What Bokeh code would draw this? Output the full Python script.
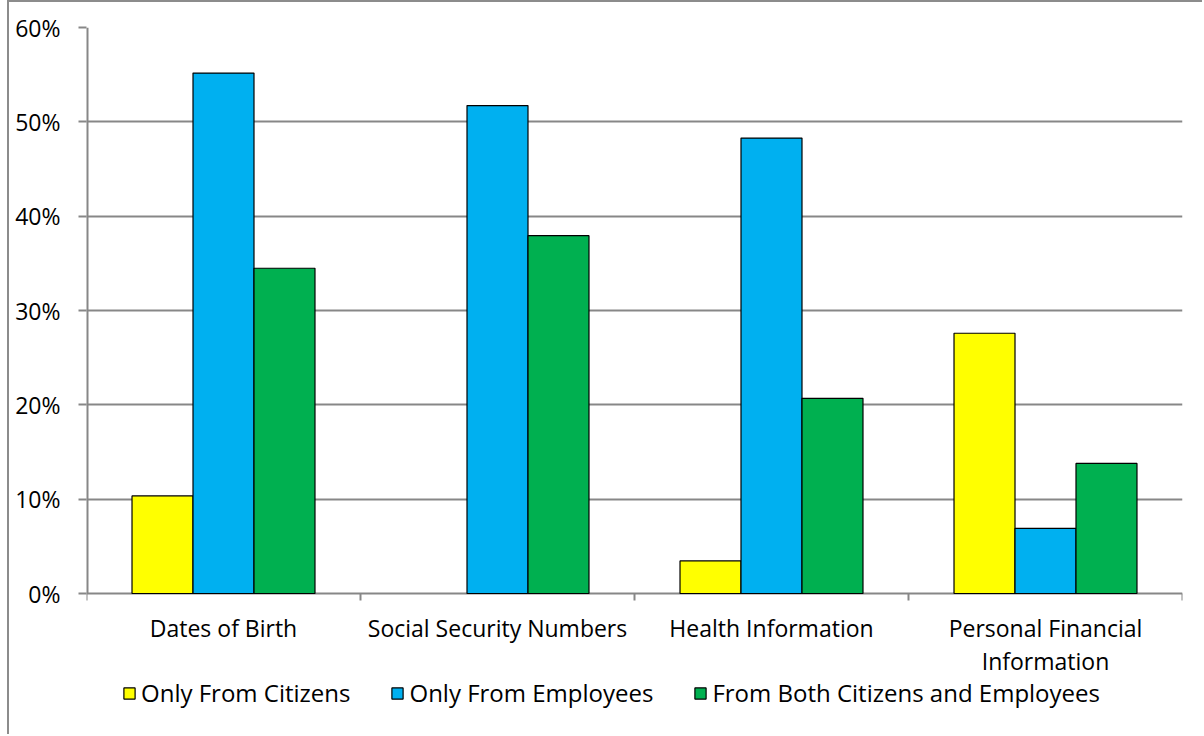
from bokeh.plotting import figure
from bokeh.models import (ColumnDataSource, FixedTicker, NumeralTickFormatter,
                          Legend, LegendItem, Range1d)
from bokeh.core.properties import value
from bokeh.embed import file_html
from bokeh.resources import INLINE

# Share of agencies collecting each kind of personal data, by source
categories = ["Dates of Birth", "Social Security Numbers", "Health Information",
              "Personal Financial\nInformation"]
series_names = ["Only From Citizens", "Only From Employees",
                "From Both Citizens and Employees"]
only_citizens = [10.34, 0.0, 3.45, 27.59]
only_employees = [55.17, 51.72, 48.28, 6.90]
both = [34.48, 37.93, 20.69, 13.79]
y_ticks = [0, 10, 20, 30, 40, 50, 60]

colors = ["#FFFF00", "#00B0F0", "#00B050"]
FONT = "Open Sans"
FS = "23px"
GRID = "#878787"

# layout: plot area 1096 x 566 px for 0..60 %, with room underneath it
# (inside the frame) for category labels and the legend row
PLOT_H = 566
BELOW_H = 143
PX = 60 / PLOT_H                      # data units per pixel
n = len(categories)

p = figure(width=1195, height=734, output_backend="svg", toolbar_location=None,
           x_range=Range1d(0, n), y_range=Range1d(-BELOW_H * PX, 60),
           x_axis_location=None,
           min_border_left=77, min_border_top=25, min_border_right=22,
           min_border_bottom=0)
p.outline_line_color = None
p.background_fill_color = "white"
p.border_fill_color = "white"

bar_w = 0.2226
centers = [i + 0.5 for i in range(n)]
renderers = []
for k, (vals, col) in enumerate(zip([only_citizens, only_employees, both], colors)):
    src = ColumnDataSource(dict(
        x=[c + (k - 1) * bar_w for c in centers],
        top=vals,
        lc=["black" if v > 0 else None for v in vals],
    ))
    r = p.vbar(x="x", top="top", width=bar_w, bottom=0, source=src,
               fill_color=col, line_color="lc", line_width=1.2)
    renderers.append(r)

# y axis: percent ticks, outward tick marks; its line only spans 0..60
p.yaxis.ticker = FixedTicker(ticks=y_ticks)
p.yaxis.formatter = NumeralTickFormatter(format="0")
p.yaxis.major_label_overrides = {t: f"{t}%" for t in y_ticks}
p.yaxis.major_tick_out = 8
p.yaxis.major_tick_in = 0
p.yaxis.minor_tick_line_color = None
p.yaxis.axis_line_color = None
p.yaxis.major_tick_line_color = GRID
p.yaxis.major_tick_line_width = 2
p.yaxis.major_label_standoff = 18
p.yaxis.major_label_text_font = FONT
p.yaxis.major_label_text_font_size = FS
p.yaxis.major_label_text_color = "black"
p.segment(x0=[0], y0=[0], x1=[0], y1=[y_ticks[-1]], line_color=GRID, line_width=4)

p.xgrid.grid_line_color = None
p.ygrid.ticker = FixedTicker(ticks=y_ticks)
p.ygrid.grid_line_color = GRID
p.ygrid.grid_line_width = 2

# category axis: tick marks at the boundaries, names under each group
bounds = list(range(n + 1))
p.segment(x0=bounds, y0=[0] * len(bounds), x1=bounds, y1=[-7 * PX] * len(bounds),
          line_color=GRID, line_width=2)
p.text(x=centers, y=[-18 * PX] * n, text=categories,
       text_font=value(FONT), text_font_size=FS, text_color="black",
       text_align="center", text_baseline="top", text_line_height=1.05)

# legend row under the category labels
legend = Legend(items=[LegendItem(label=nm, renderers=[r])
                       for nm, r in zip(series_names, renderers)],
                orientation="horizontal", location=(36, 27),
                border_line_color=None, background_fill_alpha=0,
                label_text_font=FONT, label_text_font_size="24px",
                label_text_color="black",
                glyph_width=14, glyph_height=14, label_standoff=5,
                spacing=40, padding=0, margin=0)
p.add_layout(legend, "center")

p.margin = (0, 0, 0, 7)
p.styles = {"border-left": "2px solid #8c8c8c", "border-top": "2px solid #8c8c8c"}

open("out.html", "w").write(file_html(p, INLINE))
